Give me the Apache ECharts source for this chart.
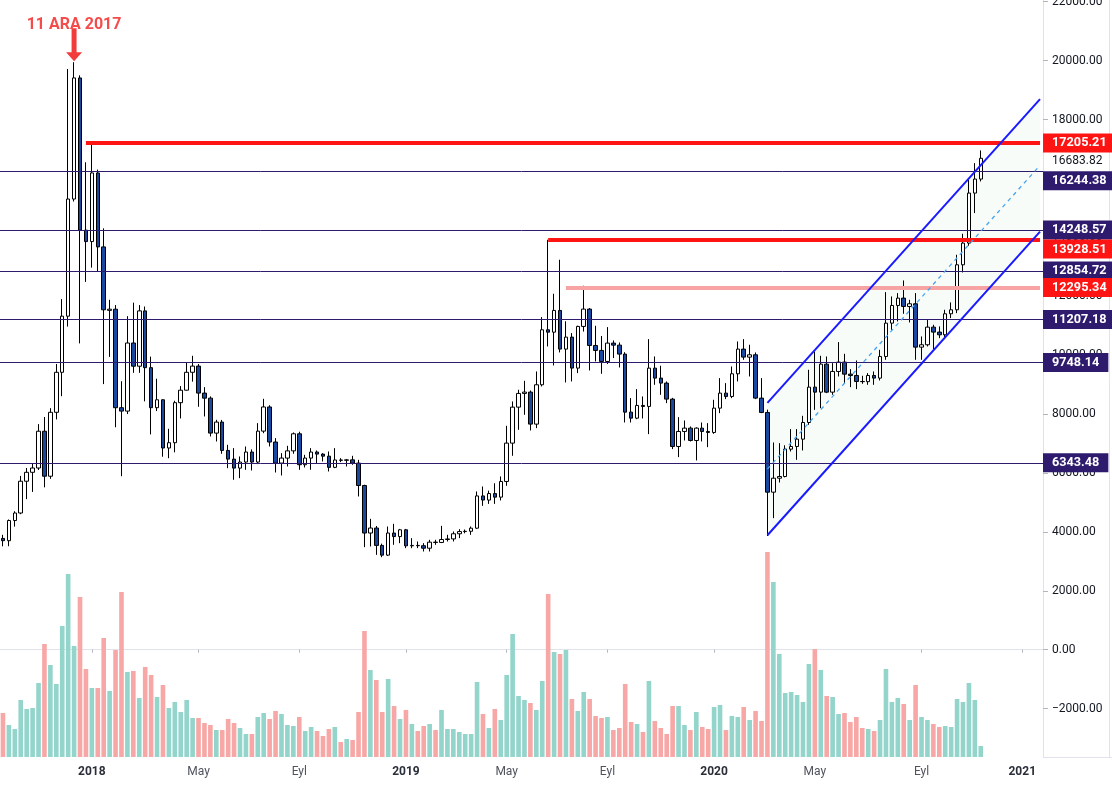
<!DOCTYPE html>
<html>
<head>
<meta charset="utf-8">
<title>BTC haftalık</title>
<script src="https://cdn.jsdelivr.net/npm/echarts/dist/echarts.min.js"></script>
<style>
  html, body { margin: 0; padding: 0; background: #fff; }
  #chart { width: 1112px; height: 785px; }
</style>
</head>
<body>
<div id="chart"></div>
<script>
// haftalık mumlar, 18 Eyl 2017 haftasından 16 Kas 2020 haftasına kadar
// sağdaki boş alan için 2021 Ocak sonuna kadar hafta kategorisi var
const firstWeek = Date.UTC(2017, 8, 18)
const weekCount = 176
const categories = []
for (let i = 0; i < weekCount; i++) {
  categories.push(new Date(firstWeek + i * 7 * 86400000).toISOString().slice(0, 10))
}

// x ekseni etiketleri
const tickWeeks = ['2018-01-01', '2018-05-07', '2018-09-03', '2019-01-07', '2019-05-06',
  '2019-09-02', '2020-01-06', '2020-05-04', '2020-09-07', '2021-01-04']
const tickNames = ['2018', 'May', 'Eyl', '2019', 'May', 'Eyl', '2020', 'May', 'Eyl', '2021']

const opens = [
  3777, 3700, 4385, 4640, 5719, 6022, 6168, 7417, 5889, 8059, 9418, 11323, 15300, 19412, 14244,
  13856, 16186, 13675, 11520, 11560, 8216, 8100, 10412, 9625, 11503,
  9575, 8216, 8484, 6847, 7027, 8386, 8810, 9418, 9628, 8711,
  8540, 7353, 7727, 6765, 6470, 6165, 6370, 6710, 6370, 7420,
  8240, 7050, 6335, 6505, 6750, 7330, 6280, 6505, 6710, 6640,
  6570, 6190, 6440, 6430, 6445, 6335, 5575, 3960, 4130, 3540,
  3210, 3960, 3840,
  4070, 3526, 3540, 3530, 3445, 3650, 3640,
  3740, 3760, 3935, 4010, 4020, 4125, 5220, 5080, 5300, 5179,
  5711, 7013, 8235, 8700, 8745, 7658, 8994, 10861, 10780, 11518,
  10205, 10612, 9560, 10975, 11563, 10329, 10160, 9786, 10409, 10340,
  10035, 8065, 7861, 8292, 8258, 9559, 9220, 9050, 8507, 6899,
  7409, 7522, 7103, 7522, 7409,
  7375, 8201, 8710, 8597, 9367,
  10205, 9933, 10012, 8541, 8054, 5348, 5822, 5879, 6808, 6899,
  7148, 7714, 8914, 8744, 9695, 8744, 9446, 9763, 9355, 9310,
  9106, 9100, 9310, 9220, 9955, 11087, 11687, 11936, 11653, 11744,
  10272, 10352, 10951, 10782, 10691, 11404, 11540, 13068, 13804, 15502, 15978
]
const highs = [
  3900, 4420, 4700, 5900, 6168, 6337, 7659, 7900, 8200, 9700, 11904, 19715, 19945, 19500, 16549,
  17215, 16300, 14305, 11880, 11700, 9115, 11323, 11782, 11700, 11650,
  9950, 9200, 8500, 7500, 8450, 8950, 9750, 9978, 9700, 8914,
  8600, 7805, 7800, 6956, 6843, 6560, 6899, 6800, 7692, 8518,
  8300, 7182, 6673, 6922, 7375, 7400, 6616, 6843, 6763, 6673,
  6730, 6843, 6503, 6469, 6582, 6446, 5600, 4443, 4200, 3600,
  4182, 4273, 4100,
  4100, 3786, 3673, 3617, 3730, 3730, 4205,
  3900, 4013, 4092, 4080, 4183, 5371, 5541, 5400, 5650, 5881,
  7601, 8428, 8824, 9129, 8800, 9446, 11292, 13918, 12084, 13239,
  11150, 10748, 11000, 12356, 11600, 10997, 10650, 10952, 10500, 10431,
  10100, 8541, 8846, 8597, 10544, 9956, 9640, 9107, 8550, 7895,
  7782, 7578, 7550, 7714, 7692,
  8484, 9220, 9050, 9616, 10465,
  10544, 10352, 10091, 9220, 8150, 7035, 7012, 6940, 7488, 7488,
  7940, 9503, 10125, 9978, 9955, 9729, 10442, 10046, 9525, 9820,
  9299, 9389, 9446, 10182, 12140, 11993, 12106, 12536, 11880, 12106,
  10635, 11201, 11031, 10975, 11540, 11789, 13408, 14121, 16012, 16521, 16951
]
const lows = [
  3510, 3512, 4178, 4600, 5112, 5356, 6100, 5512, 5800, 7818, 8606, 10970, 15215, 10399, 12487,
  12970, 12827, 9017, 9940, 7550, 5889, 8000, 9400, 9400, 8430,
  7310, 8100, 6551, 6500, 6700, 7850, 8800, 9100, 8246, 7918,
  7239, 7069, 6650, 6163, 5767, 5824, 6107, 6084, 6300, 7350,
  6899, 6016, 5914, 6220, 6650, 6107, 6186, 6107, 6333, 6390,
  6050, 6163, 6367, 6220, 6277, 5201, 3481, 3503, 3220, 3141,
  3180, 3560, 3616,
  3447, 3447, 3447, 3334, 3334, 3560, 3620,
  3673, 3673, 3786, 3950, 3900, 4100, 4884, 4950, 4950, 5066,
  5564, 6583, 7465, 7975, 7443, 7522, 8937, 10295, 9650, 10092,
  9073, 9107, 9390, 10800, 9480, 9786, 9367, 9700, 9900, 9582,
  7714, 7714, 7827, 7850, 7318, 8993, 8654, 8371, 6809, 6537,
  7103, 7069, 6424, 7069, 6877,
  7329, 8031, 8507, 8541, 9107,
  9842, 9276, 8507, 8031, 3860, 4465, 5676, 5850, 6729, 6446,
  6763, 7635, 8144, 8201, 8710, 8654, 9276, 9050, 8914, 8846,
  9027, 8993, 8993, 9140, 9842, 10861, 11144, 11404, 11110, 9842,
  9842, 10295, 10204, 10578, 10544, 11257, 11427, 12808, 13714, 14823, 15898
]
const closes = [
  3700, 4385, 4640, 5719, 6022, 6168, 7417, 5889, 8059, 9418, 11323, 15300, 19412, 14244, 13856,
  16186, 13675, 11540, 11560, 8216, 8100, 10412, 9625, 11503, 9575,
  8216, 8484, 6847, 7027, 8386, 8810, 9418, 9628, 8711, 8540,
  7353, 7727, 6765, 6470, 6165, 6370, 6710, 6370, 7420, 8240,
  7050, 6335, 6505, 6750, 7330, 6280, 6505, 6710, 6640, 6570,
  6190, 6440, 6430, 6445, 6335, 5575, 3960, 4130, 3540, 3210,
  3960, 3840, 4070,
  3526, 3540, 3530, 3445, 3650, 3640, 3740,
  3760, 3935, 4010, 4020, 4125, 5220, 5080, 5300, 5179, 5711,
  7013, 8235, 8700, 8745, 7658, 8994, 10861, 10780, 11518, 10205,
  10612, 9560, 10975, 11563, 10329, 10160, 9786, 10409, 10340, 10035,
  8065, 7861, 8292, 8258, 9559, 9220, 9050, 8507, 6899, 7409,
  7522, 7103, 7522, 7409, 7375,
  8201, 8710, 8597, 9367, 10205,
  9933, 10012, 8541, 8054, 5348, 5822, 5879, 6808, 6899, 7148,
  7714, 8914, 8744, 9695, 8744, 9446, 9763, 9355, 9310, 9106,
  9100, 9310, 9220, 9955, 11087, 11687, 11936, 11653, 11744, 10272,
  10352, 10951, 10782, 10691, 11404, 11540, 13068, 13804, 15502, 15978, 16683.82
]
// hacim (göreli)
const volumes = [
  44, 32, 28, 57, 48, 49, 74, 113, 92, 73, 131, 183, 111, 160, 88,
  69, 69, 119, 66, 107, 165, 85, 86, 59, 90,
  82, 60, 72, 49, 55, 45, 57, 39, 39, 34,
  32, 27, 27, 38, 34, 29, 23, 23, 40, 44,
  38, 46, 43, 32, 31, 40, 26, 30, 26, 21,
  28, 30, 15, 18, 17, 45, 126, 87, 77, 45,
  78, 51, 38,
  47, 33, 26, 31, 33, 27, 47,
  28, 28, 25, 23, 23, 75, 43, 29, 48, 37,
  82, 123, 61, 57, 54, 47, 76, 163, 105, 103,
  107, 58, 46, 65, 58, 41, 39, 40, 27, 29,
  73, 35, 33, 25, 76, 36, 29, 23, 51, 51,
  32, 27, 45, 30, 28,
  50, 52, 27, 41, 40,
  50, 37, 46, 36, 205, 175, 103, 64, 65, 62,
  55, 93, 108, 87, 61, 60, 43, 44, 35, 40,
  29, 28, 26, 37, 88, 55, 59, 53, 37, 72,
  40, 37, 33, 30, 31, 30, 58, 55, 74, 57, 11
]

// yatay seviyeler (null = grafiğin başından)
const levelValues = [17205.21, 16244.38, 14248.57, 13928.51, 12854.72, 12295.34, 11207.18, 9748.14, 6343.48]
const levelFrom = ['2017-12-25', null, null, '2019-06-24', null, '2019-07-15', null, null, null]
const lastPrice = 16683.82

// yükselen kanal
const channelWeeks = ['2020-03-09', '2021-01-25']
const channelUpper = [8380, 18690]
const channelLower = [3886, 14196]
const channelMid = [6133, 16443]

// işaret
const peakWeek = '2017-12-11'
const peakText = '11 ARA 2017'

// renkler
const RED = '#ff1414'
const PINK = '#f7a3a3'
const NAVY = '#2e1b6e'
const levelColors = [RED, NAVY, NAVY, RED, NAVY, PINK, NAVY, NAVY, NAVY]
const levelWidths = [4, 1, 1, 4, 1, 4, 1, 1, 1]
const labelColors = [RED, NAVY, NAVY, RED, NAVY, RED, NAVY, NAVY, NAVY]
// üst üste binen etiketler aşağı kayar
const labelAlign = ['middle', 'top', 'middle', 'top', 'middle', 'middle', 'middle', 'middle', 'middle']

const chart = echarts.init(document.getElementById('chart'))

const lastCat = categories[categories.length - 1]

const levelLines = levelValues.map((v, i) => {
  const label = {
    show: true,
    position: 'end',
    formatter: v.toFixed(2),
    color: '#ffffff',
    fontWeight: 'bold',
    fontSize: 12.7,
    lineHeight: 14,
    backgroundColor: labelColors[i],
    padding: [3, 9, 2, 9],
    verticalAlign: labelAlign[i],
    distance: levelFrom[i] ? 3 : 0
  }
  const lineStyle = { color: levelColors[i], width: levelWidths[i], type: 'solid' }
  if (levelFrom[i]) {
    return [
      { coord: [levelFrom[i], v], label, lineStyle },
      { coord: [lastCat, v] }
    ]
  }
  return { yAxis: v, label, lineStyle }
})

// son fiyat etiketi, arka plansız; üstteki kırmızı etiketin altına kayık
levelLines.push({
  yAxis: lastPrice,
  lineStyle: { color: 'rgba(0,0,0,0)', width: 1 },
  label: {
    show: true,
    position: 'end',
    formatter: lastPrice.toFixed(2),
    color: '#131722',
    fontSize: 12,
    lineHeight: 6,
    verticalAlign: 'top',
    padding: [0, 8, 0, 9],
    distance: 0
  }
})

const option = {
  animation: false,
  backgroundColor: '#ffffff',
  textStyle: { fontFamily: 'Roboto, sans-serif' },
  grid: [
    { left: 0, right: 69, top: 0, bottom: 28, outerBoundsMode: 'none' },
    { left: 0, right: 69, top: 0, bottom: 28, outerBoundsMode: 'none' }
  ],
  xAxis: [
    {
      type: 'category',
      gridIndex: 0,
      data: categories,
      boundaryGap: true,
      axisLine: { lineStyle: { color: '#e0e3eb' } },
      axisTick: {
        show: true,
        alignWithLabel: true,
        length: 3,
        interval: (i, v) => tickWeeks.includes(v),
        lineStyle: { color: '#b2b5be' }
      },
      axisLabel: {
        interval: (i, v) => tickWeeks.includes(v),
        margin: 9,
        formatter: v => {
          const name = tickNames[tickWeeks.indexOf(v)]
          return /^\d+$/.test(name) ? '{y|' + name + '}' : '{m|' + name + '}'
        },
        rich: {
          y: { color: '#2a2e39', fontSize: 12, fontWeight: 'bold' },
          m: { color: '#50535e', fontSize: 12 }
        }
      },
      splitLine: { show: false }
    },
    { type: 'category', gridIndex: 1, data: categories, boundaryGap: true, show: false }
  ],
  yAxis: [
    {
      type: 'value',
      gridIndex: 0,
      position: 'right',
      min: -3644,
      max: 22058,
      splitNumber: 13,
      splitLine: { show: false },
      axisLine: { show: true, lineStyle: { color: '#e0e3eb' } },
      axisTick: { show: true, length: 5, lineStyle: { color: '#b2b5be' } },
      axisLabel: {
        color: '#131722',
        fontSize: 12,
        margin: 9,
        showMinLabel: false,
        showMaxLabel: false,
        formatter: v => (Math.abs(v % 2000) < 0.01 ? v.toFixed(2).replace('-', '\u2212') : '')
      }
    },
    { type: 'value', gridIndex: 1, min: 0, max: 757, show: false }
  ],
  graphic: [
    { type: 'line', shape: { x1: 1043, y1: 757.5, x2: 1112, y2: 757.5 }, style: { stroke: '#e0e3eb', lineWidth: 1 } },
    { type: 'line', shape: { x1: 1109.5, y1: 0, x2: 1109.5, y2: 757 }, style: { stroke: '#e0e3eb', lineWidth: 1 } }
  ],
  series: [
    {
      // kanal dolgusu
      type: 'custom',
      xAxisIndex: 0,
      yAxisIndex: 0,
      silent: true,
      z: 1,
      data: [[channelWeeks[0], channelLower[0]]],
      renderItem: (params, api) => {
        const pts = [
          api.coord([channelWeeks[0], channelUpper[0]]),
          api.coord([channelWeeks[1], channelUpper[1]]),
          api.coord([channelWeeks[1], channelLower[1]]),
          api.coord([channelWeeks[0], channelLower[0]])
        ]
        return { type: 'polygon', shape: { points: pts }, style: { fill: 'rgba(76, 175, 80, 0.04)' } }
      }
    },
    {
      type: 'bar',
      xAxisIndex: 1,
      yAxisIndex: 1,
      barWidth: '78%',
      z: 1,
      silent: true,
      data: volumes.map((v, i) => ({
        value: v,
        itemStyle: { color: closes[i] >= opens[i] ? '#93d4cb' : '#f7a8a6' }
      }))
    },
    {
      type: 'candlestick',
      xAxisIndex: 0,
      yAxisIndex: 0,
      barWidth: 4,
      z: 3,
      data: opens.map((o, i) => [o, closes[i], lows[i], highs[i]]),
      itemStyle: {
        color: '#ffffff',
        color0: '#1848a0',
        borderColor: '#000000',
        borderColor0: '#000000',
        borderWidth: 1
      },
      markLine: {
        silent: true,
        symbol: ['none', 'none'],
        animation: false,
        data: levelLines
      },
      markPoint: {
        silent: true,
        animation: false,
        data: [{
          coord: [peakWeek, highs[categories.indexOf(peakWeek)]],
          symbol: 'path://M5.5,0L10.5,0L10.5,24L16,24L8,33L0,24L5.5,24Z',
          symbolSize: [16, 33],
          symbolOffset: [0, -17.5],
          itemStyle: { color: '#f23c3c' },
          label: {
            show: true,
            position: 'top',
            distance: -5,
            formatter: peakText,
            color: '#f44b4b',
            fontSize: 16,
            fontWeight: 'bold'
          }
        }]
      }
    },
    {
      type: 'line',
      xAxisIndex: 0,
      yAxisIndex: 0,
      symbol: 'none',
      silent: true,
      z: 5,
      data: [[channelWeeks[0], channelUpper[0]], [channelWeeks[1], channelUpper[1]]],
      lineStyle: { color: '#1a1aff', width: 2 }
    },
    {
      type: 'line',
      xAxisIndex: 0,
      yAxisIndex: 0,
      symbol: 'none',
      silent: true,
      z: 5,
      data: [[channelWeeks[0], channelLower[0]], [channelWeeks[1], channelLower[1]]],
      lineStyle: { color: '#1a1aff', width: 2 }
    },
    {
      type: 'line',
      xAxisIndex: 0,
      yAxisIndex: 0,
      symbol: 'none',
      silent: true,
      z: 5,
      data: [[channelWeeks[0], channelMid[0]], [channelWeeks[1], channelMid[1]]],
      lineStyle: { color: '#4aa3ef', width: 1.3, type: [4, 4] }
    }
  ]
}

chart.setOption(option)

window.addEventListener('resize', () => chart.resize())
</script>
</body>
</html>
